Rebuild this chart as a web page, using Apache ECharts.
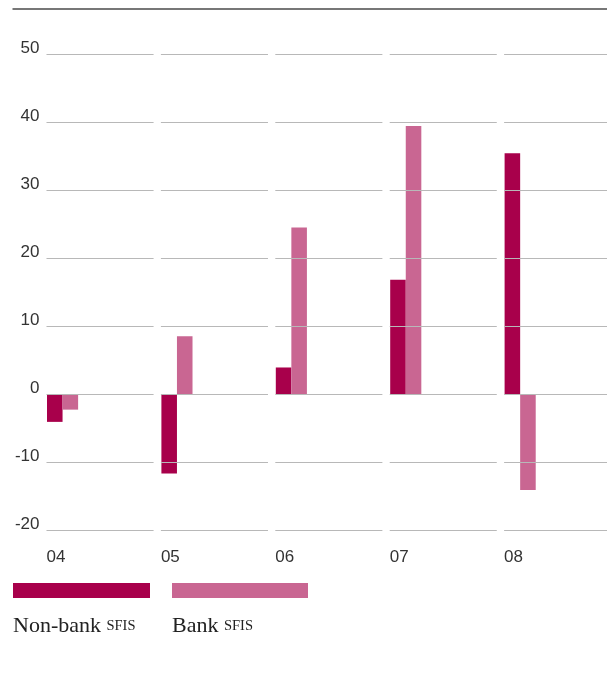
<!DOCTYPE html>
<html>
<head>
<meta charset="utf-8">
<script src="https://cdn.jsdelivr.net/npm/echarts@6/dist/echarts.min.js"></script>
<style>
  html, body { margin: 0; padding: 0; background: #fff; }
  #chart { width: 607px; height: 693px; }
</style>
</head>
<body>
<div id="chart"></div>
<script>
// Annual change, by year (two-digit labels)
const categories = ['04', '05', '06', '07', '08'];
const nonBankSfis = [-4.1, -11.7, 3.9, 16.8, 35.4];
const bankSfis = [-2.3, 8.5, 24.5, 39.4, -14.1];
const yTicks = [-20, -10, 0, 10, 20, 30, 40, 50];

const seriesNames = ['Non-bank', 'Bank'];
const seriesColors = ['#A8004B', '#C96692'];

const chart = echarts.init(document.getElementById('chart'), null, { renderer: 'canvas' });

// Horizontal rule segments: one per year and per tick value
const gridData = [];
categories.forEach((c, i) => yTicks.forEach(v => gridData.push([i, v])));

function barRenderer(slot) {
  return function (params, api) {
    const band = api.size([1, 0])[0];
    const barW = band * 0.136;
    const base = api.coord([api.value(0), 0]);
    const top = api.coord([api.value(0), api.value(1)]);
    const x = base[0] + 0.5 + slot * barW;
    return {
      type: 'rect',
      shape: { x: x, y: Math.min(base[1], top[1]), width: barW, height: Math.abs(base[1] - top[1]) },
      style: { fill: api.visual('color') }
    };
  };
}

const legendRich = {
  a: { fontFamily: 'Liberation Serif, serif', fontSize: 22, fill: '#222' },
  b: { fontFamily: 'Liberation Serif, serif', fontSize: 14.5, fill: '#222' }
};

const option = {
  animation: false,
  grid: { left: 46.5, top: 54, width: 457.6, height: 476, containLabel: false },
  xAxis: {
    type: 'category',
    data: categories,
    boundaryGap: false,
    axisLine: { show: false },
    axisTick: { show: false },
    splitLine: { show: false },
    axisLabel: {
      interval: 0,
      align: 'left',
      margin: 19,
      color: '#333',
      fontFamily: 'Liberation Sans, Arial, sans-serif',
      fontSize: 17
    }
  },
  yAxis: {
    type: 'value',
    min: yTicks[0],
    max: yTicks[yTicks.length - 1],
    interval: 10,
    axisLine: { show: false },
    axisTick: { show: false },
    splitLine: { show: false },
    axisLabel: {
      margin: 7,
      color: '#333',
      fontFamily: 'Liberation Sans, Arial, sans-serif',
      fontSize: 17,
      verticalAlign: 'bottom',
      lineHeight: 12
    }
  },
  series: [
    {
      name: seriesNames[0],
      type: 'custom',
      color: seriesColors[0],
      z: 2,
      renderItem: barRenderer(0),
      data: nonBankSfis.map((v, i) => [i, v])
    },
    {
      name: seriesNames[1],
      type: 'custom',
      color: seriesColors[1],
      z: 2,
      renderItem: barRenderer(1),
      data: bankSfis.map((v, i) => [i, v])
    },
    {
      name: 'gridlines',
      type: 'custom',
      z: 5,
      silent: true,
      renderItem: function (params, api) {
        const band = api.size([1, 0])[0];
        const p = api.coord([api.value(0), api.value(1)]);
        const y = Math.round(p[1]) + 0.5;
        return {
          type: 'line',
          shape: { x1: p[0], y1: y, x2: p[0] + band * 0.936, y2: y },
          style: { stroke: '#B8B8B8', lineWidth: 1.2 }
        };
      },
      data: gridData
    }
  ],
  graphic: [
    {
      type: 'line',
      shape: { x1: 12.5, y1: 9, x2: 607, y2: 9 },
      style: { stroke: '#777', lineWidth: 2 }
    },
    {
      type: 'rect',
      shape: { x: 13, y: 583, width: 137, height: 15 },
      style: { fill: seriesColors[0] }
    },
    {
      type: 'rect',
      shape: { x: 172, y: 583, width: 136, height: 15 },
      style: { fill: seriesColors[1] }
    },
    {
      type: 'text',
      x: 13,
      y: 615,
      style: {
        text: '{a|' + seriesNames[0] + ' }{b|SFIS}',
        rich: legendRich
      }
    },
    {
      type: 'text',
      x: 172,
      y: 615,
      style: {
        text: '{a|' + seriesNames[1] + ' }{b|SFIS}',
        rich: legendRich
      }
    }
  ]
};

chart.setOption(option);
</script>
</body>
</html>
